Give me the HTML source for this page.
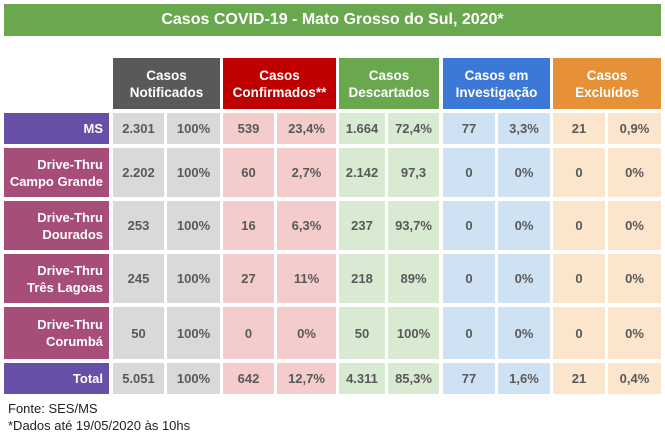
<!DOCTYPE html>
<html><head><meta charset="utf-8"><style>
body{margin:0;width:665px;height:438px;background:#fff;position:relative;overflow:hidden;font-family:"Liberation Sans",sans-serif}
div{position:absolute;box-sizing:border-box;display:flex;align-items:center;justify-content:center;text-align:center;font-weight:bold}
.t{left:4px;top:4px;width:657px;height:32px;background:#6aa84f;color:#fff;font-size:16px}
.h{top:58px;height:51px;color:#fff;font-size:13.5px;line-height:17px}
.l{left:4px;width:105px;color:#fff;font-size:13px;justify-content:flex-end;text-align:right;padding-right:6px;line-height:17px}
.c{font-size:13px;color:#595959}
.g{background:#d9d9d9}.r{background:#f4cccc}.e{background:#d9ead3}.b{background:#cfe2f3}.o{background:#fce5cd}
.a1{left:113px;width:51px}.a2{left:167px;width:53px}.a3{left:223px;width:51px}.a4{left:277px;width:59px}.a5{left:339px;width:46px}.a6{left:388px;width:51px}.a7{left:443px;width:52px}.a8{left:498px;width:52px}.a9{left:553px;width:52px}.a10{left:608px;width:53px}
.r1{top:113px;height:31px}.r2{top:148px;height:49px}.r3{top:201px;height:49px}.r4{top:254px;height:49px}.r5{top:307px;height:52px}.r6{top:363px;height:31px}
.f{left:8px;font-weight:normal;font-size:13px;color:#222;justify-content:flex-start}
</style></head><body>
<div class="t">Casos COVID-19 - Mato Grosso do Sul, 2020*</div>
<div class="h" style="left:113px;width:107px;background:#595959">Casos<br>Notificados</div>
<div class="h" style="left:223px;width:113px;background:#c00000">Casos<br>Confirmados**</div>
<div class="h" style="left:339px;width:100px;background:#6aa84f">Casos<br>Descartados</div>
<div class="h" style="left:443px;width:107px;background:#3c78d8">Casos em<br>Investigação</div>
<div class="h" style="left:553px;width:108px;background:#e69138">Casos<br>Excluídos</div>

<div class="l r1" style="background:#674ea7">MS</div>
<div class="l r2" style="background:#a64d79">Drive-Thru<br>Campo Grande</div>
<div class="l r3" style="background:#a64d79">Drive-Thru<br>Dourados</div>
<div class="l r4" style="background:#a64d79">Drive-Thru<br>Três Lagoas</div>
<div class="l r5" style="background:#a64d79">Drive-Thru<br>Corumbá</div>
<div class="l r6" style="background:#674ea7">Total</div>

<div class="c g a1 r1">2.301</div><div class="c g a2 r1">100%</div><div class="c r a3 r1">539</div><div class="c r a4 r1">23,4%</div><div class="c e a5 r1">1.664</div><div class="c e a6 r1">72,4%</div><div class="c b a7 r1">77</div><div class="c b a8 r1">3,3%</div><div class="c o a9 r1">21</div><div class="c o a10 r1">0,9%</div>
<div class="c g a1 r2">2.202</div><div class="c g a2 r2">100%</div><div class="c r a3 r2">60</div><div class="c r a4 r2">2,7%</div><div class="c e a5 r2">2.142</div><div class="c e a6 r2">97,3</div><div class="c b a7 r2">0</div><div class="c b a8 r2">0%</div><div class="c o a9 r2">0</div><div class="c o a10 r2">0%</div>
<div class="c g a1 r3">253</div><div class="c g a2 r3">100%</div><div class="c r a3 r3">16</div><div class="c r a4 r3">6,3%</div><div class="c e a5 r3">237</div><div class="c e a6 r3">93,7%</div><div class="c b a7 r3">0</div><div class="c b a8 r3">0%</div><div class="c o a9 r3">0</div><div class="c o a10 r3">0%</div>
<div class="c g a1 r4">245</div><div class="c g a2 r4">100%</div><div class="c r a3 r4">27</div><div class="c r a4 r4">11%</div><div class="c e a5 r4">218</div><div class="c e a6 r4">89%</div><div class="c b a7 r4">0</div><div class="c b a8 r4">0%</div><div class="c o a9 r4">0</div><div class="c o a10 r4">0%</div>
<div class="c g a1 r5">50</div><div class="c g a2 r5">100%</div><div class="c r a3 r5">0</div><div class="c r a4 r5">0%</div><div class="c e a5 r5">50</div><div class="c e a6 r5">100%</div><div class="c b a7 r5">0</div><div class="c b a8 r5">0%</div><div class="c o a9 r5">0</div><div class="c o a10 r5">0%</div>
<div class="c g a1 r6">5.051</div><div class="c g a2 r6">100%</div><div class="c r a3 r6">642</div><div class="c r a4 r6">12,7%</div><div class="c e a5 r6">4.311</div><div class="c e a6 r6">85,3%</div><div class="c b a7 r6">77</div><div class="c b a8 r6">1,6%</div><div class="c o a9 r6">21</div><div class="c o a10 r6">0,4%</div>

<div class="f" style="top:400px;height:16px">Fonte: SES/MS</div>
<div class="f" style="top:417px;height:16px">*Dados até 19/05/2020 às 10hs</div>
</body></html>
